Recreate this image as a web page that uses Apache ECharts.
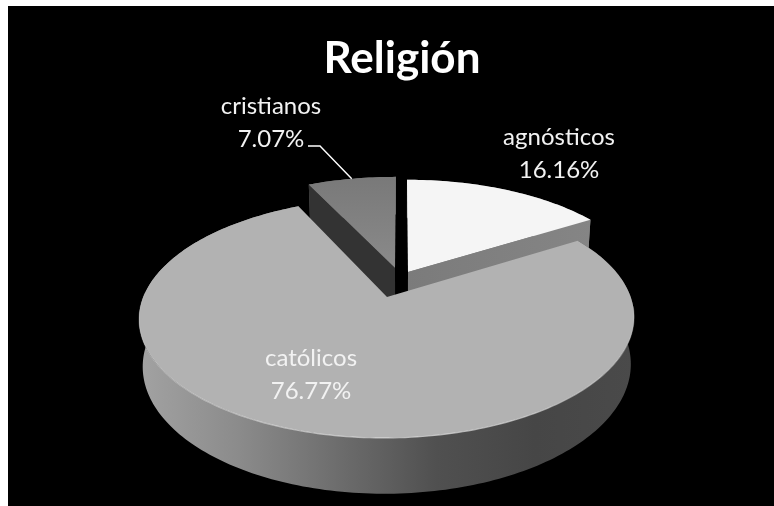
<!DOCTYPE html>
<html lang="es">
<head>
<meta charset="utf-8">
<title>Religión</title>
<style>
  html, body { margin: 0; padding: 0; background: #fff; }
  #chart { width: 774px; height: 506px; }
</style>
<script src="https://cdn.jsdelivr.net/npm/echarts@6/dist/echarts.min.js"></script>
</head>
<body>
<div id="chart"></div>
<script>
// Chart data
const categories = ['agnósticos', 'católicos', 'cristianos'];
const shares = [16.16, 76.77, 7.07];
const chartTitle = 'Religión';

// Perspective model of the tilted disc: plane point (u, v) on a unit circle, v towards the viewer
const VIEW = { x: 401, y: 297, ax: 243.7, by: 116.3, k: 0.175, depth: 46, shrink: 0.014 };

// Per-slice look: plane offset of the exploded apex, paint order, face and wall paints
const grad = (x0, y0, x1, y1, stops) =>
  new echarts.graphic.LinearGradient(x0, y0, x1, y1,
    stops.map((c, i) => ({ offset: i / (stops.length - 1), color: c })), true);

const LOOK = [
  { off: [0.0298, -0.2234], z: 2, top: '#f5f5f5',
    outer: '#8a8a8a', wallEnd: grad(408, 0, 592, 0, ['#7b7b7b', '#858585']) },
  { off: [-0.0574, 0], z: 3, top: '#b2b2b2',
    outer: grad(140, 0, 634, 0, ['#a2a2a2', '#8b8b8b', '#6d6d6d', '#505050', '#464646', '#4a4a4a']) },
  { off: [-0.0257, -0.2608], z: 1, top: grad(0, 177, 0, 268, ['#797979', '#8a8a8a']),
    outer: '#6a6a6a', wallStart: '#333333' }
];

function project(u, v, h) {
  const w = 1 - VIEW.k * v;
  const s = 1 - VIEW.shrink * h;
  return [
    VIEW.x + VIEW.ax * s * u / w,
    VIEW.y + VIEW.by * v / w + h * VIEW.depth / w
  ];
}

// Angle is clockwise from the top of the disc, in radians
function rimPoint(off, a, h) {
  return project(off[0] + Math.sin(a), off[1] - Math.cos(a), h);
}

function rimPath(off, a0, a1, h) {
  const steps = Math.max(2, Math.ceil(Math.abs(a1 - a0) / 0.02));
  const pts = [];
  for (let i = 0; i <= steps; i++) pts.push(rimPoint(off, a0 + (a1 - a0) * i / steps, h));
  return pts;
}

const total = shares.reduce((a, b) => a + b, 0);
const startShare = shares.map((_, i) => shares.slice(0, i).reduce((a, b) => a + b, 0));

function renderSlice(params, api) {
  const i = params.dataIndex;
  const value = api.value(0);
  const a0 = startShare[i] / total * Math.PI * 2;
  const a1 = a0 + value / total * Math.PI * 2;
  const look = LOOK[i];
  const off = look.off;
  const apexTop = project(off[0], off[1], 0);
  const apexBottom = project(off[0], off[1], 1);
  const kids = [];

  const poly = (points, fill, z2) => kids.push({
    type: 'polygon', shape: { points }, z2: z2,
    style: { fill: fill, stroke: null }
  });

  // Outer wall
  const topRim = rimPath(off, a0, a1, 0);
  const bottomRim = rimPath(off, a0, a1, 1);
  poly(topRim.concat(bottomRim.slice().reverse()), look.outer, look.z * 10);

  // Cut walls
  if (look.wallStart) {
    poly([apexTop, rimPoint(off, a0, 0), rimPoint(off, a0, 1), apexBottom], look.wallStart, look.z * 10 + 1);
  }
  if (look.wallEnd) {
    poly([apexTop, rimPoint(off, a1, 0), rimPoint(off, a1, 1), apexBottom], look.wallEnd, look.z * 10 + 1);
  }

  // Top face
  poly([apexTop].concat(topRim), look.top, look.z * 10 + 2);

  // Soft highlight along the near edge of the large slice
  if (i === 1) {
    kids.push({
      type: 'polyline',
      shape: { points: rimPath(off, 1.65, 4.75, 0) },
      z2: look.z * 10 + 3,
      style: {
        fill: null, lineWidth: 1.2,
        stroke: grad(0, 300, 0, 438, ['rgba(220,220,220,0.15)', 'rgba(225,225,225,0.7)'])
      }
    });
  }
  return { type: 'group', children: kids };
}

// Data labels, positioned by category
const LABEL_POS = { 'agnósticos': [559, 154], 'católicos': [311, 375], 'cristianos': [271, 123] };

function renderLabel(params, api) {
  const i = params.dataIndex;
  const name = categories[i];
  const pos = LABEL_POS[name];
  const kids = [{
    type: 'text', z2: 100,
    style: {
      text: name + '\n' + api.value(0).toFixed(2) + '%',
      x: pos[0], y: pos[1], align: 'center', verticalAlign: 'middle',
      fill: '#f2f2f2', font: '400 24px Lato', lineHeight: 33
    }
  }];
  if (name === 'cristianos') {
    const mid = (startShare[i] + shares[i] / 2) / total * Math.PI * 2;
    kids.push({
      type: 'polyline', z2: 100,
      shape: { points: [[308, 146], [320, 146], rimPoint(LOOK[i].off, mid, 0)] },
      style: { fill: null, stroke: '#ffffff', lineWidth: 1.4 }
    });
  }
  return { type: 'group', children: kids };
}

const chart = echarts.init(document.getElementById('chart'), null, { renderer: 'canvas' });
chart.setOption({
  animation: false,
  backgroundColor: '#ffffff',
  graphic: [{
    type: 'rect', z: -10, silent: true,
    shape: { x: 8, y: 6, width: 766, height: 500 },
    style: { fill: '#000000' }
  }],
  title: {
    text: chartTitle, left: 397, top: 32, textAlign: 'center',
    textStyle: { color: '#ffffff', fontFamily: 'Lato', fontWeight: 'bold', fontSize: 44 }
  },
  series: [
    {
      type: 'custom', coordinateSystem: 'none', silent: true, z: 2,
      renderItem: renderSlice,
      data: shares.map((v, i) => ({ name: categories[i], value: [v] }))
    },
    {
      type: 'custom', coordinateSystem: 'none', silent: true, z: 3,
      renderItem: renderLabel,
      data: shares.map((v, i) => ({ name: categories[i], value: [v] }))
    }
  ]
});
</script>
</body>
</html>
